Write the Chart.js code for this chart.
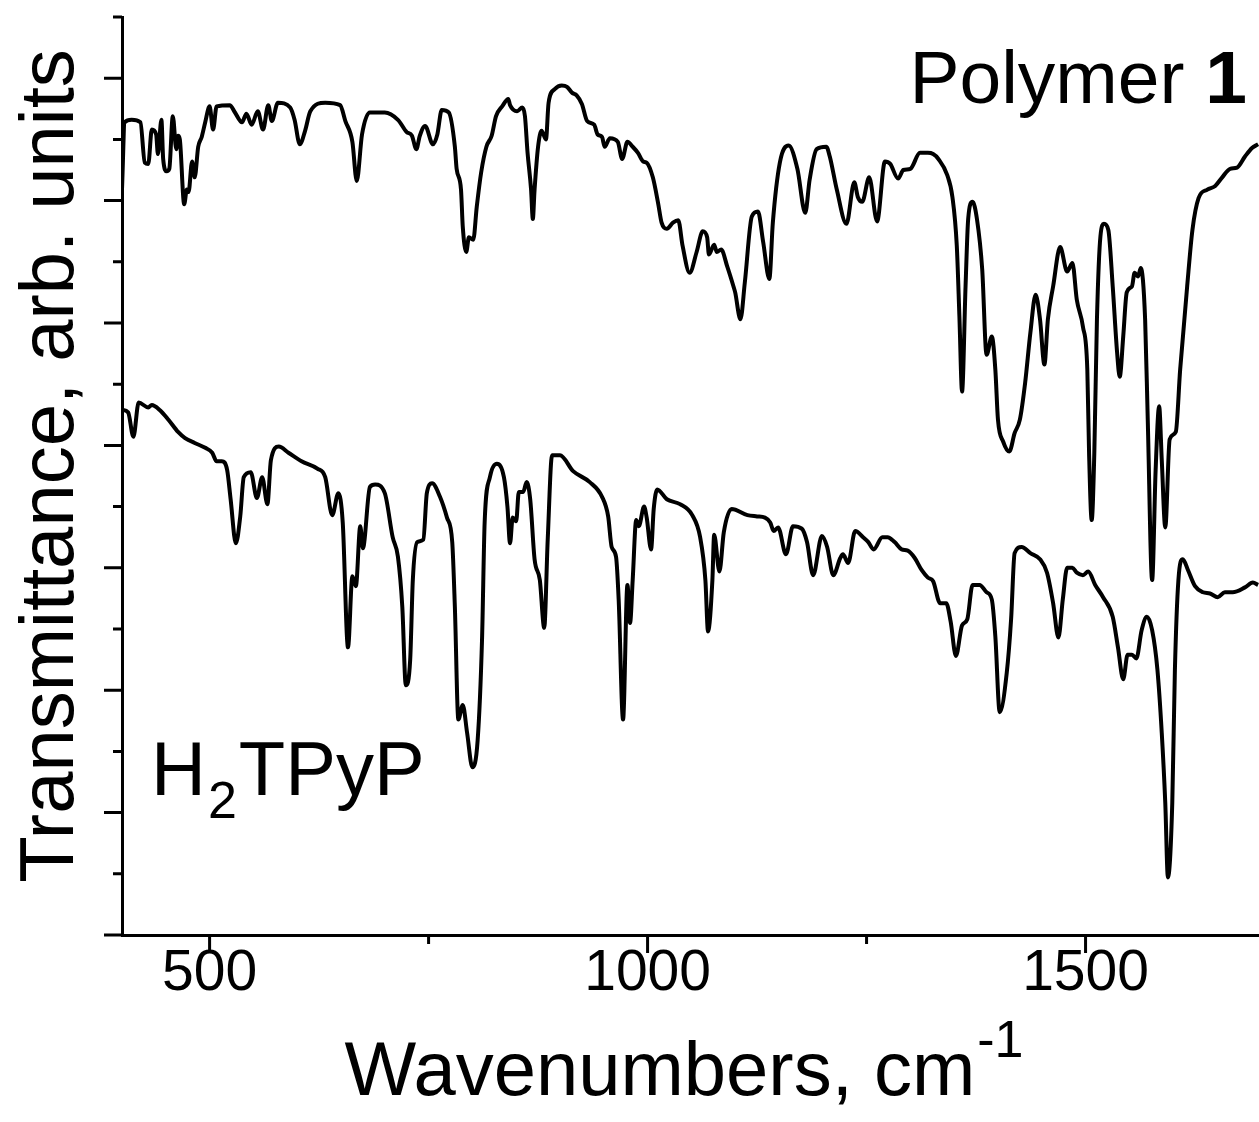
<!DOCTYPE html>
<html>
<head>
<meta charset="utf-8">
<script src="https://cdn.jsdelivr.net/npm/chart.js@4.4.1/dist/chart.umd.min.js"></script>
<style>
  html, body { margin: 0; padding: 0; background: #fff; }
  #wrap { width: 1259px; height: 1122px; position: relative; }
</style>
</head>
<body>
<div id="wrap"><canvas id="myChart"></canvas></div>
<script>
// IR spectra, wavenumbers in cm-1, transmittance in arbitrary (offset) units
const polymerWave = [400,403,411,421,426,430,434,439,441,445,447,451,454,458,462,464,466,471,474,476,480,483,487,491,495,500,504,508,523,529,537,542,548,555,561,567,571,578,592,597,603,609,615,632,649,655,663,668,674,683,700,715,725,731,736,740,746,755,760,765,773,780,782,787,789,793,796,801,805,810,816,822,827,834,841,843,851,857,860,863,867,869,871,875,879,884,887,894,902,908,914,919,925,931,939,943,948,951,957,966,971,977,983,989,995,999,1006,1012,1016,1022,1029,1035,1040,1048,1056,1063,1068,1070,1076,1079,1084,1091,1098,1100,1106,1111,1119,1126,1132,1139,1143,1151,1161,1171,1180,1185,1193,1204,1208,1216,1227,1236,1240,1245,1253,1262,1271,1277,1286,1292,1300,1311,1320,1326,1332,1342,1348,1353,1356,1359,1363,1366,1371,1376,1382,1387,1393,1397,1400,1406,1413,1419,1425,1431,1437,1443,1448,1453,1457,1463,1471,1479,1485,1490,1497,1502,1504,1507,1510,1513,1517,1521,1526,1531,1536,1539,1543,1547,1553,1556,1560,1563,1568,1571,1576,1580,1584,1587,1591,1596,1603,1608,1616,1622,1629,1639,1648,1656,1665,1673,1682,1690,1697];
const polymerT = [6.09,6.64,6.66,6.64,6.31,6.30,6.58,6.54,6.38,6.66,6.34,6.24,6.26,6.69,6.42,6.53,6.50,5.97,6.09,6.07,6.32,6.19,6.44,6.52,6.64,6.77,6.58,6.77,6.78,6.72,6.64,6.71,6.62,6.73,6.58,6.78,6.65,6.80,6.76,6.66,6.46,6.57,6.73,6.80,6.78,6.65,6.48,6.16,6.54,6.72,6.72,6.66,6.56,6.53,6.42,6.53,6.61,6.46,6.54,6.74,6.72,6.44,6.26,6.09,5.79,5.58,5.70,5.68,5.95,6.23,6.44,6.53,6.69,6.77,6.83,6.78,6.73,6.76,6.69,6.39,6.09,5.85,6.09,6.44,6.57,6.50,6.80,6.91,6.94,6.93,6.88,6.86,6.79,6.65,6.62,6.54,6.52,6.44,6.51,6.48,6.34,6.48,6.44,6.39,6.32,6.31,6.19,5.98,5.82,5.77,5.82,5.84,5.63,5.41,5.58,5.75,5.70,5.56,5.64,5.58,5.60,5.46,5.30,5.25,5.03,5.33,5.87,5.91,5.66,5.36,5.82,6.31,6.45,6.26,5.90,6.17,6.42,6.44,6.36,6.09,5.81,6.15,6.03,5.99,6.19,5.83,6.32,6.30,6.18,6.25,6.26,6.39,6.39,6.38,6.34,6.21,6.03,5.63,5.05,4.44,5.30,5.85,5.99,5.85,5.44,4.74,4.89,4.62,4.21,4.03,3.95,4.10,4.21,4.51,4.92,5.23,5.03,4.66,5.03,5.30,5.62,5.42,5.49,5.19,4.97,4.62,3.94,3.39,3.94,5.03,5.71,5.81,5.76,5.30,4.76,4.56,4.89,5.25,5.30,5.41,5.38,5.45,5.03,4.21,2.90,3.80,4.32,3.88,3.33,4.05,4.11,4.62,5.30,5.76,6.02,6.09,6.12,6.19,6.26,6.27,6.36,6.43,6.46];

const porphWave = [400,407,413,419,430,434,443,453,464,472,483,495,503,508,514,520,524,530,535,539,547,554,560,566,570,579,590,605,623,632,640,647,652,658,663,667,672,675,683,689,700,709,715,720,724,729,732,737,744,748,754,763,771,777,780,784,789,794,800,806,811,814,820,828,836,840,843,846,850,853,858,862,866,871,877,882,886,891,900,915,934,948,955,959,964,967,972,977,980,983,987,990,996,999,1004,1007,1011,1022,1037,1051,1060,1066,1069,1074,1076,1082,1087,1096,1114,1125,1134,1140,1144,1149,1158,1166,1176,1182,1189,1199,1205,1212,1220,1223,1229,1237,1246,1252,1258,1268,1274,1282,1290,1297,1305,1313,1320,1326,1334,1341,1346,1352,1359,1365,1371,1379,1387,1393,1397,1402,1410,1415,1419,1427,1437,1448,1456,1463,1469,1474,1479,1485,1490,1497,1503,1511,1520,1531,1537,1543,1548,1553,1558,1564,1570,1576,1582,1587,1591,1594,1599,1602,1606,1611,1617,1625,1634,1642,1651,1659,1668,1682,1691,1697];
const porphT = [4.29,4.27,4.07,4.35,4.31,4.33,4.29,4.21,4.11,4.06,4.02,3.98,3.94,3.87,3.87,3.80,3.56,3.20,3.42,3.74,3.78,3.57,3.74,3.52,3.88,3.99,3.94,3.87,3.81,3.74,3.43,3.61,3.37,2.35,2.93,2.85,3.34,3.16,3.66,3.68,3.61,3.25,3.09,2.68,2.04,2.25,2.90,3.21,3.23,3.61,3.69,3.58,3.41,3.21,2.68,1.76,1.88,1.65,1.37,1.59,2.41,3.37,3.74,3.85,3.74,3.50,3.20,3.41,3.38,3.62,3.62,3.70,3.56,3.07,2.90,2.51,3.23,3.92,3.92,3.79,3.70,3.58,3.42,3.17,3.09,2.74,1.76,2.86,2.55,2.90,3.39,3.34,3.50,3.41,3.15,3.48,3.64,3.56,3.52,3.43,3.25,2.90,2.48,2.90,3.27,2.97,3.29,3.48,3.43,3.42,3.41,3.37,3.30,3.33,3.11,3.34,3.32,3.21,2.94,3.26,3.17,2.94,3.08,3.11,3.04,3.30,3.25,3.21,3.15,3.25,3.25,3.21,3.15,3.14,3.08,2.98,2.92,2.89,2.71,2.71,2.56,2.28,2.53,2.58,2.86,2.86,2.80,2.74,2.44,1.82,2.14,2.58,3.12,3.17,3.12,3.07,2.96,2.71,2.43,2.74,3.00,3.00,2.96,2.94,2.97,2.86,2.76,2.60,2.35,2.09,2.29,2.29,2.26,2.49,2.60,2.49,2.17,1.65,1.08,0.47,1.08,2.17,2.90,3.07,2.98,2.85,2.80,2.79,2.76,2.80,2.80,2.84,2.88,2.86];

const xMajor = [500, 1000, 1500];
const xMinor = [750, 1250];
const yMajor = [0, 1, 2, 3, 4, 5, 6, 7];
const yMinor = [0.5, 1.5, 2.5, 3.5, 4.5, 5.5, 6.5, 7.5];

const FONT = "'Liberation Sans', Arial, sans-serif";

function toPoints(xs, ys) {
  return xs.map((x, i) => ({ x: x, y: ys[i] }));
}

// tick marks (major + minor) and the texts with sub/superscripts
const decor = {
  id: 'decor',
  afterDraw(chart) {
    const ctx = chart.ctx;
    const xs = chart.scales.x, ys = chart.scales.y;
    const left = xs.left, bottom = ys.bottom;
    ctx.save();
    ctx.strokeStyle = '#000';
    ctx.lineWidth = 3;
    ctx.lineCap = 'butt';
    ctx.beginPath();
    xMajor.forEach(v => { const p = xs.getPixelForValue(v); ctx.moveTo(p, bottom); ctx.lineTo(p, bottom + 18); });
    xMinor.forEach(v => { const p = xs.getPixelForValue(v); ctx.moveTo(p, bottom); ctx.lineTo(p, bottom + 9); });
    yMajor.forEach(v => { const p = ys.getPixelForValue(v); ctx.moveTo(left, p); ctx.lineTo(left - 18, p); });
    yMinor.forEach(v => { const p = ys.getPixelForValue(v); ctx.moveTo(left, p); ctx.lineTo(left - 9, p); });
    ctx.stroke();

    ctx.fillStyle = '#000';
    ctx.textBaseline = 'alphabetic';

    // x title with superscript
    const big = '76px ' + FONT, sup = '52px ' + FONT;
    ctx.font = big;
    const t1 = 'Wavenumbers, cm';
    const w1 = ctx.measureText(t1).width;
    ctx.font = sup;
    const w2 = ctx.measureText('-1').width;
    let x0 = 683 - (w1 + w2) / 2;
    ctx.font = big;
    ctx.textAlign = 'left';
    ctx.fillText(t1, x0, 1095);
    ctx.font = sup;
    ctx.fillText('-1', x0 + w1 + 2, 1057);

    // y title
    ctx.save();
    ctx.translate(73, 466);
    ctx.rotate(-Math.PI / 2);
    ctx.font = big;
    ctx.textAlign = 'center';
    ctx.fillText('Transmittance, arb. units', 0, 0);
    ctx.restore();

    // Polymer 1
    ctx.textAlign = 'left';
    ctx.font = '75px ' + FONT;
    const pw = ctx.measureText('Polymer ').width;
    ctx.font = 'bold 75px ' + FONT;
    const bw = ctx.measureText('1').width;
    const px = 1247 - pw - bw;
    ctx.font = '75px ' + FONT;
    ctx.fillText('Polymer ', px, 103);
    ctx.font = 'bold 75px ' + FONT;
    ctx.fillText('1', px + pw, 103);

    // H2TPyP
    ctx.font = '76px ' + FONT;
    ctx.fillText('H', 151, 795);
    const hw = ctx.measureText('H').width;
    ctx.font = '52px ' + FONT;
    ctx.fillText('2', 151 + hw + 2, 818);
    const sw = ctx.measureText('2').width;
    ctx.font = '76px ' + FONT;
    ctx.fillText('TPyP', 151 + hw + sw + 4, 795);
    ctx.restore();
  }
};

const ctx = document.getElementById('myChart');
const chart = new Chart(ctx, {
  type: 'line',
  data: {
    datasets: [
      {
        label: 'Polymer 1',
        data: toPoints(polymerWave, polymerT),
        borderColor: '#000',
        borderWidth: 4,
        pointRadius: 0,
        fill: false,
        cubicInterpolationMode: 'monotone'
      },
      {
        label: 'H2TPyP',
        data: toPoints(porphWave, porphT),
        borderColor: '#000',
        borderWidth: 4,
        pointRadius: 0,
        fill: false,
        cubicInterpolationMode: 'monotone'
      }
    ]
  },
  options: {
    responsive: true,
    maintainAspectRatio: false,
    animation: false,
    devicePixelRatio: 1,
    layout: { padding: { top: 17, left: 0, right: 0, bottom: 0 } },
    plugins: { legend: { display: false }, tooltip: { enabled: false } },
    scales: {
      x: {
        type: 'linear',
        min: 400,
        max: 1698,
        afterBuildTicks: s => { s.ticks = xMajor.map(v => ({ value: v })); },
        afterFit: s => { s.height = 187; },
        grid: { display: false, drawTicks: false },
        border: { display: true, color: '#000', width: 3 },
        ticks: {
          color: '#000',
          font: { family: FONT, size: 57 },
          padding: 5,
          maxRotation: 0,
          autoSkip: false,
          callback: v => String(v)
        }
      },
      y: {
        type: 'linear',
        min: 0,
        max: 7.5,
        afterFit: s => { s.width = 122; },
        grid: { display: false, drawTicks: false },
        border: { display: true, color: '#000', width: 3 },
        ticks: { display: false }
      }
    }
  },
  plugins: [decor]
});
</script>
</body>
</html>
